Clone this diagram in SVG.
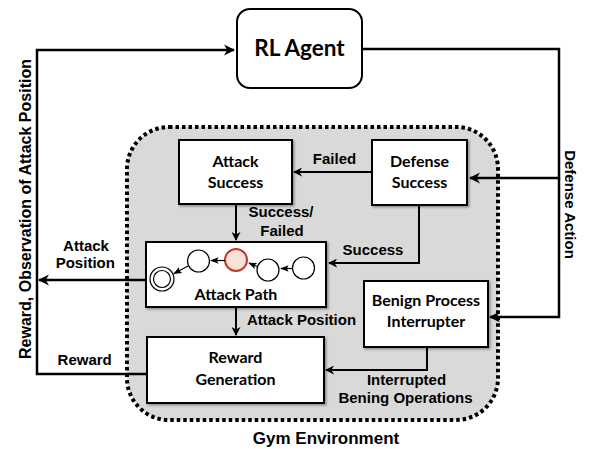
<svg xmlns="http://www.w3.org/2000/svg" width="589" height="449" viewBox="0 0 589 449">
<defs>
<marker id="ah" viewBox="0 0 10 10" refX="9" refY="5" markerWidth="4.5" markerHeight="4.5" orient="auto" markerUnits="strokeWidth">
<path d="M0,0 L10,5 L0,10 L3,5 Z" fill="#000"/>
</marker>
<marker id="ahs" viewBox="0 0 10 10" refX="9" refY="5" markerWidth="7" markerHeight="7" orient="auto" markerUnits="strokeWidth">
<path d="M0,1 L10,5 L0,9 L2,5 Z" fill="#000"/>
</marker>
<filter id="sh" x="-10%" y="-10%" width="130%" height="130%">
<feDropShadow dx="1.5" dy="1.5" stdDeviation="1" flood-color="#000" flood-opacity="0.35"/>
</filter>
</defs>
<style>
.box{fill:#fff;stroke:#000;stroke-width:2;filter:url(#sh)}
.bt{font-family:Lato,"Liberation Sans",sans-serif;font-weight:bold;font-size:16px;text-anchor:middle;fill:#000}
.lb{font-family:"Liberation Sans",Arial,sans-serif;font-weight:bold;font-size:15px;text-anchor:middle;fill:#000}
.ln{fill:none;stroke:#000;stroke-width:2.5}
.sn{fill:none;stroke:#000;stroke-width:1.2}
.st{fill:#fff;stroke:#000;stroke-width:1.2}
</style>
<g id="gym-environment">
<rect x="127" y="127" width="371" height="293" rx="42" fill="#d9d9d9" stroke="#000" stroke-width="4" stroke-dasharray="3.5 3"/>
<text class="lb" x="326" y="444" style="font-size:17px">Gym Environment</text>
</g>
<g id="connectors">
<path class="ln" d="M147,374 H37 V50 H234" marker-end="url(#ah)"/>
<path class="ln" d="M146,280 H39" marker-end="url(#ah)"/>
<path class="ln" d="M362,49 H559 V178 H470" marker-end="url(#ah)"/>
<path class="ln" d="M559,178 V317 H490" marker-end="url(#ah)"/>
<path class="ln" d="M372,172 H294" marker-end="url(#ah)" style="stroke-width:2"/>
<path class="ln" d="M236,204 V240" marker-end="url(#ah)" style="stroke-width:2"/>
<path class="ln" d="M419,205 V263 H329" marker-end="url(#ah)" style="stroke-width:2"/>
<path class="ln" d="M236,307 V335" marker-end="url(#ah)" style="stroke-width:2"/>
<path class="ln" d="M427,347 V370 H326" marker-end="url(#ah)" style="stroke-width:2"/>
<text class="lb" x="334.5" y="164">Failed</text>
<text class="lb" x="281" y="217">Success/</text>
<text class="lb" x="282" y="236">Failed</text>
<text class="lb" x="373" y="255">Success</text>
<text class="lb" x="86" y="251">Attack</text>
<text class="lb" x="85.3" y="268">Position</text>
<text class="lb" x="301.5" y="325">Attack Position</text>
<text class="lb" x="84.7" y="365">Reward</text>
<text class="lb" x="406.5" y="385">Interrupted</text>
<text class="lb" x="405.5" y="403">Bening Operations</text>
<text class="lb" x="0" y="0" style="font-size:16px" transform="translate(31,209) rotate(-90)">Reward, Observation of Attack Position</text>
<text class="lb" x="0" y="0" transform="translate(565,204.5) rotate(90)">Defense Action</text>
</g>
<g id="rl-agent">
<rect x="237" y="9" width="125" height="79" rx="13" fill="#fff" stroke="#000" stroke-width="2"/>
<text class="bt" x="299.5" y="56" style="font-size:22.5px">RL Agent</text>
</g>
<g id="attack-success">
<rect class="box" x="179" y="140" width="113" height="64"/>
<text class="bt" x="235.5" y="167">Attack</text>
<text class="bt" x="235.5" y="188">Success</text>
</g>
<g id="defense-success">
<rect class="box" x="372" y="140" width="95" height="65"/>
<text class="bt" x="419.5" y="167">Defense</text>
<text class="bt" x="419.5" y="188">Success</text>
</g>
<g id="attack-path">
<rect class="box" x="146" y="242" width="180" height="65"/>
<circle class="st" cx="162" cy="279" r="12"/>
<circle class="st" cx="162" cy="279" r="8.5"/>
<circle class="st" cx="198.5" cy="261" r="11"/>
<circle cx="236" cy="260" r="11" fill="#f6e2d6" stroke="#c0392b" stroke-width="2"/>
<circle class="st" cx="268" cy="270" r="11"/>
<circle class="st" cx="303.5" cy="268" r="11"/>
<path class="sn" d="M292.5,268.5 H281" marker-end="url(#ahs)"/>
<path class="sn" d="M257,266.5 L249,263" marker-end="url(#ahs)"/>
<path class="sn" d="M225,260.5 H211" marker-end="url(#ahs)"/>
<path class="sn" d="M188,266 L174,273.5" marker-end="url(#ahs)"/>
<text class="bt" x="236" y="300">Attack Path</text>
</g>
<g id="reward-generation">
<rect class="box" x="147" y="337" width="177" height="66"/>
<text class="bt" x="235.5" y="363">Reward</text>
<text class="bt" x="235.5" y="385">Generation</text>
</g>
<g id="benign-process-interrupter">
<rect class="box" x="364" y="281" width="124" height="66"/>
<text class="bt" x="426" y="306">Benign Process</text>
<text class="bt" x="426" y="327">Interrupter</text>
</g>
</svg>
